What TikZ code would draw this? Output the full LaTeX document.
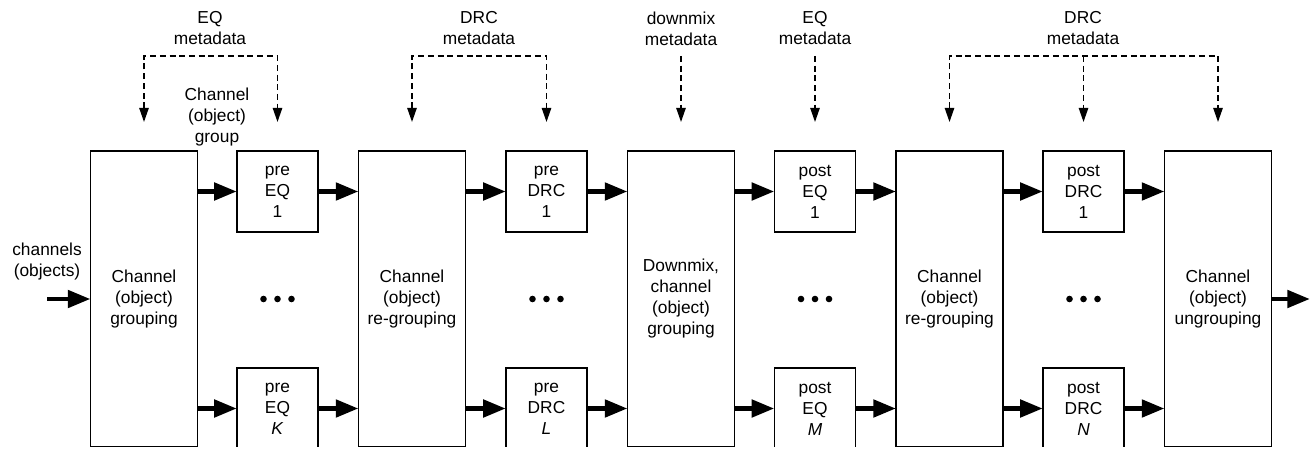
\documentclass[tikz,border=0pt]{standalone}
\usepackage{fontspec}
\setmainfont{Liberation Sans}
\usetikzlibrary{arrows.meta}
\begin{document}
\begin{tikzpicture}[x=0.75pt,y=-0.75pt,
  every node/.style={font=\fontsize{13}{15.75}\selectfont, align=center,
    inner sep=0pt, outer sep=0pt},
  stage/.style={draw, line width=1.1pt, minimum width=80.25pt, minimum height=222pt},
  unit/.style={draw, line width=1.1pt, minimum width=61pt, minimum height=60.75pt},
  flow/.style={line width=3.6pt, -{Triangle[length=17pt,width=12.75pt]}},
  metaline/.style={line width=1.1pt, dash pattern=on 4.5pt off 2.8pt},
  metaarrow/.style={metaline, -{Triangle[length=10.5pt,width=7pt]}, shorten >=21.75pt},
  metapair/.style={metaline, {Triangle[length=10.5pt,width=7pt]}-{Triangle[length=10.5pt,width=7pt]},
    shorten <=21.75pt, shorten >=21.75pt},
]
\useasboundingbox (0,0) rectangle (1316,449);
\clip (0,0) rectangle (1316,446.5);

% processing stages (open towards the bottom edge)
\node[stage] (g1) at (144,299)    {Channel\\(object)\\grouping};
\node[stage] (g2) at (412,299)    {Channel\\(object)\\re-grouping};
\node[stage] (g3) at (681,299)    {Downmix,\\channel\\(object)\\grouping};
\node[stage] (g4) at (949.5,299)  {Channel\\(object)\\re-grouping};
\node[stage] (g5) at (1218,299)   {Channel\\(object)\\ungrouping};

% per-group processing units
\node[unit] (peq1)  at (277.5,191.5)  {pre\\EQ\\1};
\node[unit] (peqK)  at (277.5,408.5)  {pre\\EQ\\\textit{K}};
\node[unit] (pdrc1) at (546.5,191.5)  {pre\\DRC\\1};
\node[unit] (pdrcL) at (546.5,408.5)  {pre\\DRC\\\textit{L}};
\node[unit] (qeq1)  at (815,191.5)    {post\\EQ\\1};
\node[unit] (qeqM)  at (815,408.5)    {post\\EQ\\\textit{M}};
\node[unit] (qdrc1) at (1083.5,191.5) {post\\DRC\\1};
\node[unit] (qdrcN) at (1083.5,408.5) {post\\DRC\\\textit{N}};

% labels
\node (m1)  at (210,28.5)  {EQ\\metadata};
\node (m2)  at (479,28.5)  {DRC\\metadata};
\node (m3)  at (681,28.5)  {downmix\\metadata};
\node (m4)  at (815,28.5)  {EQ\\metadata};
\node (m5)  at (1083,28.5) {DRC\\metadata};
\node (grp) at (217,117.5) {Channel\\(object)\\group};
\node (chin) at (47,261.5) {channels\\(objects)};

% ellipses between first and last unit
\foreach \c in {peq1,pdrc1,qeq1,qdrc1}
  \foreach \d in {-14,0,14}
    \fill (\c |- g1) ++(\d,0) circle (3.3);

% signal flow
\coordinate (src) at (47,299);
\coordinate (dst) at (1310,299);
\draw[flow] (src) -- (g1.west);
\foreach \a/\u/\b in {g1/peq1/g2, g1/peqK/g2, g2/pdrc1/g3, g2/pdrcL/g3,
                      g3/qeq1/g4, g3/qeqM/g4, g4/qdrc1/g5, g4/qdrcN/g5} {
  \draw[flow] (\a.east |- \u) -- (\u.west);
  \draw[flow] (\u.east) -- (\b.west |- \u);
}
\draw[flow] (g5.east) -- (dst);

% metadata distribution
\coordinate (mrow) at (0,56);
\draw[metapair] (g1.north) -- (g1.north |- mrow) -- (peq1.north |- mrow) -- (peq1.north);
\draw[metapair] (g2.north) -- (g2.north |- mrow) -- (pdrc1.north |- mrow) -- (pdrc1.north);
\draw[metaarrow] (g3.north |- mrow) -- (g3.north);
\draw[metaarrow] (qeq1.north |- mrow) -- (qeq1.north);
\draw[metapair] (g4.north) -- (g4.north |- mrow) -- (g5.north |- mrow) -- (g5.north);
\draw[metaarrow] (qdrc1.north |- mrow) -- (qdrc1.north);
\end{tikzpicture}
\end{document}
